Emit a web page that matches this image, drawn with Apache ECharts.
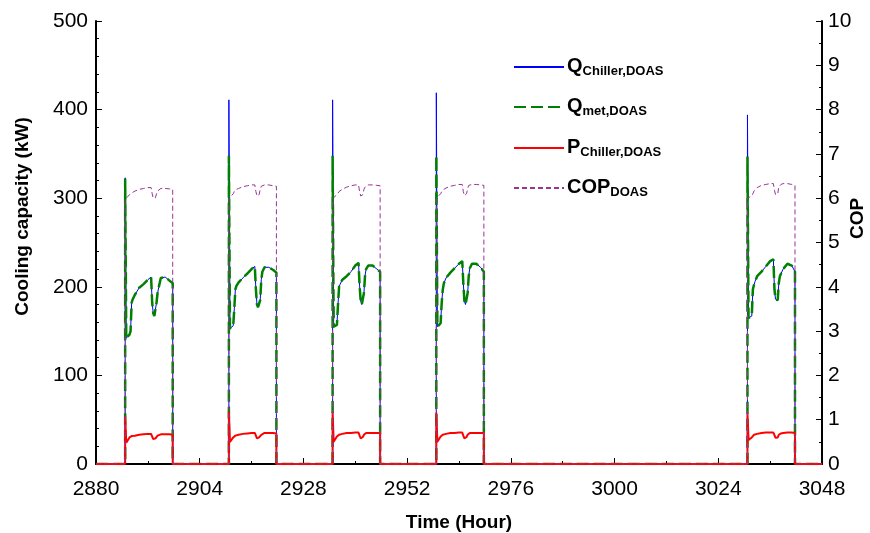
<!DOCTYPE html>
<html><head><meta charset="utf-8">
<script src="https://cdn.jsdelivr.net/npm/echarts@6/dist/echarts.min.js"></script>
<style>html,body{margin:0;padding:0;background:#fff}#c{width:870px;height:533px}</style>
</head><body><div id="c"></div>
<script>
// ---- data ----
const xTicks = [2880, 2904, 2928, 2952, 2976, 3000, 3024, 3048];
const dayStarts = [2880, 2904, 2928, 2952, 3024];
const hourOfDay = [6.75, 6.75, 7.0, 7.75, 8.0, 8.25, 8.5, 9.0, 10.0, 11.0, 12.0, 12.75, 13.0, 13.25, 13.5, 13.75, 14.0, 14.25, 14.5, 15.0, 16.0, 17.0, 17.75, 17.75];

const qChiller = [
  [0, 323, 142, 146, 150, 182, 186, 191, 199, 203, 208, 211, 182, 170, 167, 166, 182, 193, 199, 210, 211, 207, 204, 0],
  [0, 411, 153, 156, 175, 197, 201, 205, 210, 215, 220, 223, 197, 180, 177, 176, 185, 208, 217, 222, 222, 219, 216, 0],
  [0, 411, 155, 157, 180, 200, 203, 208, 212, 217, 224, 227, 201, 184, 180, 179, 193, 212, 220, 224, 224, 220, 217, 0],
  [0, 419, 155, 159, 182, 197, 204, 210, 216, 221, 226, 229, 204, 184, 180, 180, 193, 212, 221, 226, 226, 222, 217, 0],
  [0, 394, 165, 167, 197, 202, 206, 212, 217, 223, 229, 231, 197, 186, 184, 185, 204, 212, 213, 220, 226, 224, 217, 0]
];
const qMet = [
  [0, 322, 142, 146, 150, 182, 186, 191, 199, 203, 208, 211, 182, 170, 167, 166, 182, 193, 199, 210, 211, 207, 204, 0],
  [0, 348, 153, 156, 175, 197, 201, 205, 210, 215, 220, 223, 197, 180, 177, 176, 185, 208, 217, 222, 222, 219, 216, 0],
  [0, 348, 155, 157, 180, 200, 203, 208, 212, 217, 224, 227, 201, 184, 180, 179, 193, 212, 220, 224, 224, 220, 217, 0],
  [0, 348, 155, 159, 182, 197, 204, 210, 216, 221, 226, 229, 204, 184, 180, 180, 193, 212, 221, 226, 226, 222, 217, 0],
  [0, 347, 165, 167, 197, 202, 206, 212, 217, 223, 229, 231, 197, 186, 184, 185, 204, 212, 213, 220, 226, 224, 217, 0]
];
const pChiller = [
  [0, 54, 24, 30, 31, 31.5, 32, 32, 33, 33.5, 34, 34, 31, 28, 28, 29, 31, 32, 33, 33.5, 33.5, 33.5, 33, 0],
  [0, 59, 25, 30, 31, 32, 32.5, 33, 34, 34.5, 35, 35, 32, 29, 29, 30, 32, 33, 34, 35, 35, 35, 34.5, 0],
  [0, 59, 25, 31, 32.5, 33, 33.5, 34, 35, 35, 35.5, 35.5, 32, 29, 29, 30.5, 33, 34.5, 35, 35, 35, 35, 35, 0],
  [0, 58, 25, 31, 32.5, 33, 33.5, 34, 35, 35, 35.5, 35.5, 32, 29, 29, 30.5, 33, 34.5, 35, 35, 35, 35, 35, 0],
  [0, 58, 27, 30, 32, 33, 33.5, 34, 35, 35.5, 35.5, 35.5, 32.5, 29.5, 29, 30, 33, 34, 34.5, 35, 35.5, 35.5, 35, 0]
];
const copDoas = [
  [0, 5.97, 5.98, 6.08, 6.10, 6.12, 6.13, 6.16, 6.20, 6.22, 6.24, 6.24, 6.10, 6.00, 6.00, 6.01, 6.10, 6.16, 6.20, 6.22, 6.22, 6.21, 6.20, 0],
  [0, 5.99, 6.00, 6.10, 6.15, 6.18, 6.20, 6.22, 6.26, 6.28, 6.30, 6.30, 6.15, 6.05, 6.04, 6.08, 6.20, 6.27, 6.29, 6.30, 6.30, 6.28, 6.27, 0],
  [0, 5.99, 6.00, 6.08, 6.12, 6.15, 6.17, 6.20, 6.25, 6.28, 6.30, 6.30, 6.15, 6.05, 6.04, 6.08, 6.20, 6.25, 6.28, 6.30, 6.30, 6.29, 6.28, 0],
  [0, 6.00, 6.00, 6.10, 6.15, 6.18, 6.20, 6.23, 6.27, 6.29, 6.31, 6.31, 6.15, 6.06, 6.06, 6.10, 6.22, 6.29, 6.30, 6.31, 6.31, 6.30, 6.29, 0],
  [0, 6.00, 6.00, 6.05, 6.10, 6.16, 6.20, 6.24, 6.29, 6.31, 6.33, 6.33, 6.18, 6.08, 6.08, 6.10, 6.25, 6.29, 6.31, 6.33, 6.33, 6.31, 6.29, 0]
];
const seriesNames = ['Q|Chiller,DOAS', 'Q|met,DOAS', 'P|Chiller,DOAS', 'COP|DOAS'];

// ---- build [x, y] pairs for the library ----
function build(rows) {
  const out = [[xTicks[0], 0]];
  dayStarts.forEach((d, k) => hourOfDay.forEach((h, i) => out.push([d + h, rows[k][i]])));
  out.push([xTicks[xTicks.length - 1], 0]);
  return out;
}

const FONT = 'Liberation Sans, Arial, sans-serif';
const chart = echarts.init(document.getElementById('c'), null, {renderer: 'canvas'});

const axisCommon = {
  axisLine: {show: true, lineStyle: {color: '#000', width: 2}},
  axisTick: {show: true, inside: true, length: 6, lineStyle: {color: '#000', width: 1}},
  minorTick: {show: true, length: 3, lineStyle: {color: '#000', width: 1}},
  splitLine: {show: false},
  axisLabel: {color: '#000', fontSize: 21, fontFamily: FONT, formatter: v => String(v)},
  nameLocation: 'middle',
  nameMoveOverlap: false,
  nameTextStyle: {color: '#000', fontSize: 19, fontWeight: 'bold', fontFamily: FONT}
};

const legendTops = [53, 93, 134, 174];
const legends = seriesNames.map((n, i) => ({
  orient: 'vertical', left: 513, top: legendTops[i], padding: 0,
  itemWidth: 50, itemHeight: 14,
  itemStyle: {opacity: 0},
  data: [n],
  formatter: name => { const p = name.split('|'); return '{m|' + p[0] + '}{s|' + p[1] + '}'; },
  textStyle: {
    color: '#000', fontFamily: FONT, padding: [0, 0, 0, -2],
    rich: {
      m: {fontSize: 20, fontWeight: 'bold', lineHeight: 22, verticalAlign: 'top', fontFamily: FONT},
      s: {fontSize: 13, fontWeight: 'bold', lineHeight: 16, verticalAlign: 'bottom', padding: [12, 0, 0, 0], fontFamily: FONT}
    }
  }
}));

chart.setOption({
  animation: false,
  backgroundColor: '#fff',
  grid: {left: 96, right: 48, top: 21, bottom: 69, containLabel: false, outerBoundsMode: 'none'},
  legend: legends,
  xAxis: Object.assign({}, axisCommon, {
    type: 'value', min: xTicks[0], max: xTicks[xTicks.length - 1], interval: 24,
    minorTick: Object.assign({}, axisCommon.minorTick, {splitNumber: 2}),
    axisLabel: Object.assign({}, axisCommon.axisLabel, {margin: 15}),
    name: 'Time (Hour)', nameGap: 49
  }),
  yAxis: [
    Object.assign({}, axisCommon, {
      type: 'value', min: 0, max: 500, interval: 100, position: 'left',
      minorTick: Object.assign({}, axisCommon.minorTick, {splitNumber: 5}),
      axisLabel: Object.assign({}, axisCommon.axisLabel, {margin: 8}),
      name: 'Cooling capacity (kW)', nameGap: 64, nameRotate: 90,
      nameTextStyle: Object.assign({}, axisCommon.nameTextStyle, {padding: [0, 0, 0, 52]})
    }),
    Object.assign({}, axisCommon, {
      type: 'value', min: 0, max: 10, interval: 1, position: 'right',
      minorTick: Object.assign({}, axisCommon.minorTick, {splitNumber: 2}),
      axisLabel: Object.assign({}, axisCommon.axisLabel, {margin: 6}),
      name: 'COP', nameGap: 26, nameRotate: 90,
      nameTextStyle: Object.assign({}, axisCommon.nameTextStyle, {padding: [0, 0, 0, 48]})
    })
  ],
  series: [
    {name: seriesNames[0], type: 'line', yAxisIndex: 0, data: build(qChiller), symbol: 'none',
     lineStyle: {color: '#0000ff', width: 1}, itemStyle: {color: '#0000ff'}, z: 2},
    {name: seriesNames[1], type: 'line', yAxisIndex: 0, data: build(qMet), symbol: 'none',
     lineStyle: {color: '#008000', width: 2.5, type: [12, 5]}, itemStyle: {color: '#008000'}, z: 3},
    {name: seriesNames[2], type: 'line', yAxisIndex: 0, data: build(pChiller), symbol: 'none',
     lineStyle: {color: '#ff0000', width: 2}, itemStyle: {color: '#ff0000'}, z: 4},
    {name: seriesNames[3], type: 'line', yAxisIndex: 1, data: build(copDoas), symbol: 'none',
     lineStyle: {color: '#993399', width: 1, type: [5, 3]}, itemStyle: {color: '#993399'}, z: 5}
  ]
});
</script></body></html>
